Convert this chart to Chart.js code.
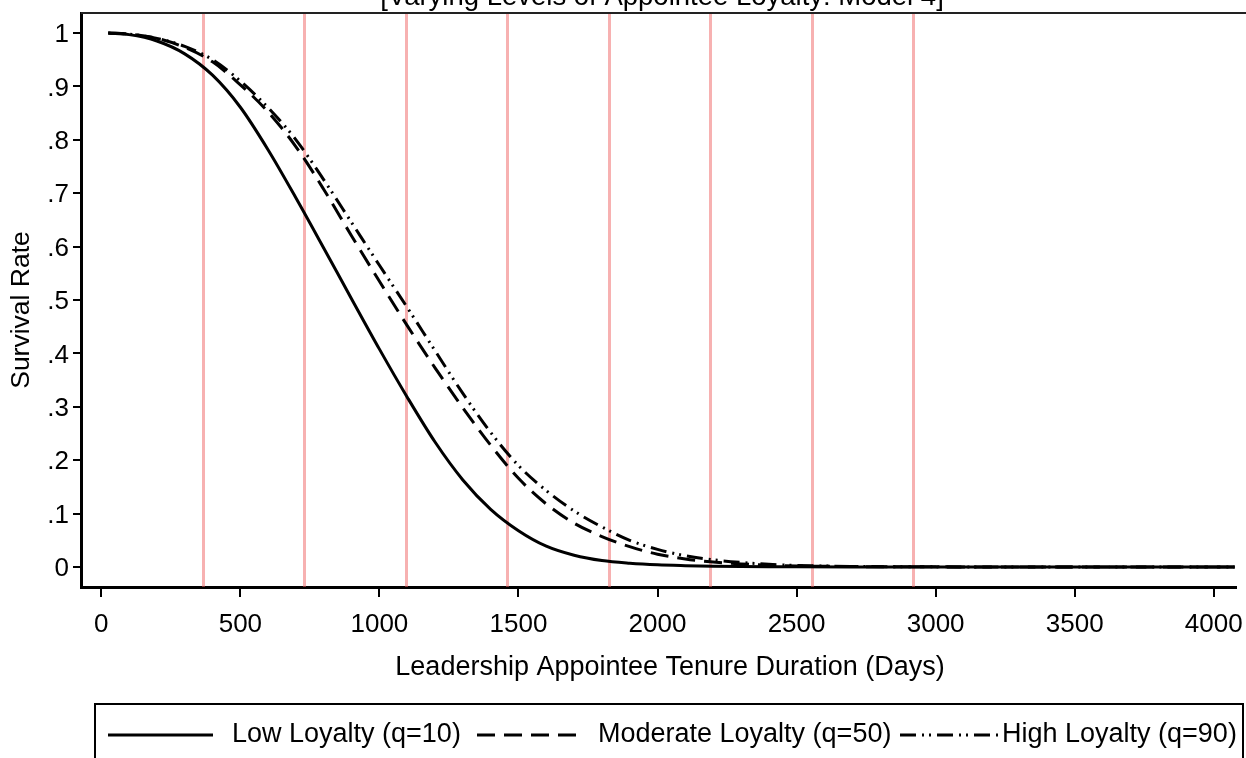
<!DOCTYPE html>
<html lang="en">
<head>
<meta charset="UTF-8">
<title>Survival Rate by Appointee Loyalty</title>
<script src="https://cdn.jsdelivr.net/npm/chart.js"></script>
<style>
  body { margin: 0; background: #fff; }
  canvas { display: block; }
</style>
</head>
<body>
<canvas id="survivalChart" width="1246" height="758"></canvas>
<script>
// tenure in days and the estimated survival rate for each loyalty level
const days = [25, 100, 200, 300, 400, 500, 600, 700, 800, 900, 1000, 1100, 1200, 1300, 1400,
              1500, 1600, 1700, 1800, 1900, 2000, 2100, 2200, 2300, 2400, 2500, 2700, 3000, 3500, 4075];
const lowLoyalty = [1.0, 0.997, 0.985, 0.961, 0.921, 0.861, 0.781, 0.691, 0.597, 0.502, 0.408, 0.318, 0.234, 0.163, 0.108,
                    0.068, 0.039, 0.022, 0.012, 0.007, 0.004, 0.0025, 0.0015, 0.0009, 0.0005, 0.0003, 0.0001, 0, 0, 0];
const moderateLoyalty = [1.0, 0.998, 0.99, 0.973, 0.946, 0.903, 0.852, 0.787, 0.707, 0.62, 0.535, 0.452, 0.373, 0.298, 0.228,
                         0.166, 0.118, 0.082, 0.057, 0.038, 0.024, 0.015, 0.0093, 0.0058, 0.0035, 0.002, 0.0008, 0.0002, 0, 0];
const highLoyalty = [1.0, 0.998, 0.99, 0.975, 0.95, 0.91, 0.86, 0.80, 0.725, 0.645, 0.565, 0.486, 0.405, 0.325, 0.252,
                     0.19, 0.143, 0.105, 0.075, 0.05, 0.033, 0.021, 0.0135, 0.0085, 0.005, 0.003, 0.001, 0.0003, 0, 0];

const seriesLabels = ['Low Loyalty (q=10)', 'Moderate Loyalty (q=50)', 'High Loyalty (q=90)'];
const yearMarks = [365, 730, 1095, 1460, 1825, 2190, 2555, 2920];
const xTicks = [0, 500, 1000, 1500, 2000, 2500, 3000, 3500, 4000];
const yTicks = [0, 0.1, 0.2, 0.3, 0.4, 0.5, 0.6, 0.7, 0.8, 0.9, 1];

const titleText = '[Varying Levels of Appointee Loyalty: Model 4]';
const xTitle = 'Leadership Appointee Tenure Duration (Days)';
const yTitle = 'Survival Rate';

const FONT = '"Liberation Sans", Arial, sans-serif';
const dashStyles = [[], [18, 9], [16, 6, 2, 5, 2, 6]];

Chart.defaults.font.family = FONT;
Chart.defaults.color = '#000';

function toPoints(values) {
    return values.map((v, i) => ({ x: days[i], y: v }));
}

// red yearly reference lines, top frame line, titles and the boxed legend
const decorations = {
    id: 'decorations',
    beforeDatasetsDraw(chart) {
        const { ctx, chartArea, scales } = chart;
        ctx.save();
        ctx.strokeStyle = 'rgba(240, 100, 100, 0.5)';
        ctx.lineWidth = 3;
        yearMarks.forEach(d => {
            const x = Math.round(scales.x.getPixelForValue(d)) + 0.5;
            ctx.beginPath();
            ctx.moveTo(x, chartArea.top);
            ctx.lineTo(x, chartArea.bottom);
            ctx.stroke();
        });
        ctx.restore();
    },
    afterDraw(chart) {
        const { ctx, chartArea } = chart;
        ctx.save();

        // top frame line
        ctx.strokeStyle = '#222';
        ctx.lineWidth = 2;
        ctx.beginPath();
        ctx.moveTo(chartArea.left, chartArea.top);
        ctx.lineTo(1246, chartArea.top);
        ctx.stroke();

        ctx.fillStyle = '#000';
        ctx.textAlign = 'center';

        // title, partly above the canvas
        ctx.font = '27.5px ' + FONT;
        ctx.textBaseline = 'alphabetic';
        ctx.fillText(titleText, 662, 5);

        // axis titles
        ctx.font = '27px ' + FONT;
        ctx.textBaseline = 'middle';
        ctx.fillText(xTitle, 670, 668);
        ctx.save();
        ctx.translate(22, 310);
        ctx.rotate(-Math.PI / 2);
        ctx.font = '26.5px ' + FONT;
        ctx.fillText(yTitle, 0, 0);
        ctx.restore();

        // legend box
        ctx.strokeStyle = '#000';
        ctx.lineWidth = 2;
        ctx.strokeRect(95, 704, 1148, 80);

        const items = [
            { x0: 108, x1: 213, tx: 232 },
            { x0: 477, x1: 580, tx: 598 },
            { x0: 900, x1: 1000, tx: 1002 }
        ];
        ctx.font = '27px ' + FONT;
        ctx.textAlign = 'left';
        items.forEach((it, i) => {
            ctx.lineWidth = 3;
            ctx.setLineDash(dashStyles[i]);
            ctx.beginPath();
            ctx.moveTo(it.x0, 735);
            ctx.lineTo(it.x1, 735);
            ctx.stroke();
            ctx.setLineDash([]);
            ctx.fillText(seriesLabels[i], it.tx, 735);
        });
        ctx.restore();
    }
};

const series = [lowLoyalty, moderateLoyalty, highLoyalty];
const datasets = series.map((vals, i) => ({
    label: seriesLabels[i],
    data: toPoints(vals),
    borderColor: '#000',
    borderWidth: 3,
    borderDash: dashStyles[i],
    pointRadius: 0,
    fill: false,
    cubicInterpolationMode: 'monotone'
}));

const ctx = document.getElementById('survivalChart').getContext('2d');
new Chart(ctx, {
    type: 'line',
    data: { datasets: datasets },
    options: {
        responsive: false,
        animation: false,
        layout: { padding: { top: 13, right: 10, left: 0, bottom: 0 } },
        plugins: {
            legend: { display: false },
            title: { display: false },
            tooltip: { enabled: false }
        },
        scales: {
            x: {
                type: 'linear',
                min: -73,
                max: 4080,
                afterBuildTicks: s => { s.ticks = xTicks.map(v => ({ value: v })); },
                afterFit: s => { s.height = 171; s.paddingLeft = 0; s.paddingRight = 0; },
                grid: { drawOnChartArea: false, drawTicks: true, tickLength: 10, color: '#000', lineWidth: 2 },
                border: { display: true, color: '#000', width: 3 },
                ticks: { font: { size: 26 }, padding: 12, maxRotation: 0, autoSkip: false, callback: v => String(v) }
            },
            y: {
                type: 'linear',
                min: -0.0375,
                max: 1.0375,
                afterBuildTicks: s => { s.ticks = yTicks.map(v => ({ value: v })); },
                afterFit: s => { s.width = 81; s.paddingTop = 0; s.paddingBottom = 0; },
                grid: { drawOnChartArea: false, drawTicks: true, tickLength: 8, color: '#000', lineWidth: 2 },
                border: { display: true, color: '#000', width: 3 },
                ticks: {
                    font: { size: 26 },
                    padding: 4,
                    labelOffset: 2,
                    autoSkip: false,
                    callback: v => {
                        const r = Math.round(v * 10) / 10;
                        if (r === 0) return '0';
                        if (r === 1) return '1';
                        return '.' + Math.round(r * 10);
                    }
                }
            }
        }
    },
    plugins: [decorations]
});
</script>
</body>
</html>
